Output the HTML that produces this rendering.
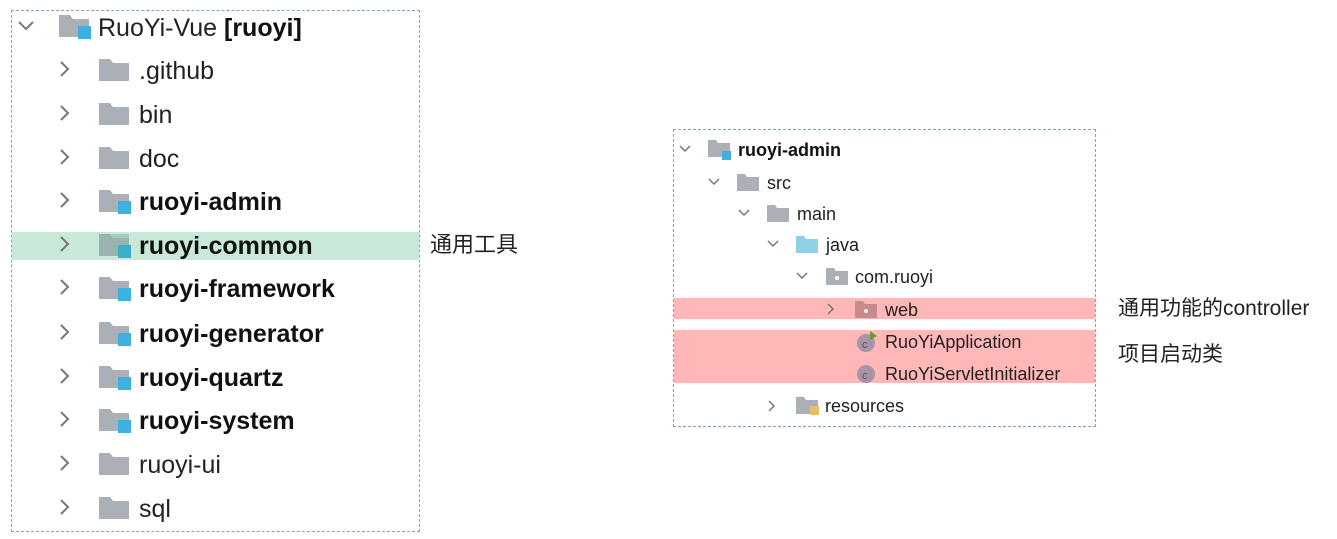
<!DOCTYPE html>
<html><head><meta charset="utf-8"><style>
body{margin:0;width:1337px;height:539px;background:#fff;position:relative;overflow:hidden;font-family:"Liberation Sans","Noto Sans CJK SC",sans-serif;color:#222}
.a{position:absolute;white-space:nowrap}
.box{position:absolute;border:1.5px dashed #7ea4cf}
.t{position:absolute;white-space:nowrap;line-height:1}
.b{font-weight:bold;color:#111}
svg{position:absolute}
</style></head><body>
<div class="a" style="left:12px;top:232px;width:407px;height:28px;background:#c8e8d8"></div>
<div class="a" style="left:674px;top:298px;width:421px;height:21px;background:#ffb7b7"></div>
<div class="a" style="left:674px;top:330px;width:421px;height:53px;background:#ffb7b7"></div>
<div class="box" style="left:11px;top:10px;width:407px;height:520px"></div>
<div class="box" style="left:673px;top:129px;width:421px;height:296px"></div>

<svg width="1337" height="539" style="left:0;top:0">
<defs>
<g id="f"><path d="M0 0h11l3 4h16v18h-30z" fill="#aab0b6"/></g>
<g id="m"><path d="M0 0h11l3 4h16v18h-30z" fill="#aab0b6"/><rect x="19" y="11" width="13" height="13" fill="#3eb0e0"/></g>
<g id="fs"><path d="M0 0h8l2 3h12v14h-22z" fill="#aab0b6"/></g>
</defs>
<g fill="none" stroke="#777" stroke-width="2">
<path d="M19 22l7 7 7-7"/>
<path d="M61 62l7 7-7 7"/><path d="M61 106l7 7-7 7"/><path d="M61 150l7 7-7 7"/><path d="M61 193l7 7-7 7"/><path d="M61 237l7 7-7 7"/><path d="M61 280l7 7-7 7"/><path d="M61 325l7 7-7 7"/><path d="M61 369l7 7-7 7"/><path d="M61 412l7 7-7 7"/><path d="M61 456l7 7-7 7"/><path d="M61 500l7 7-7 7"/>
</g>
<use href="#m" x="59" y="15"/>
<use href="#f" x="99" y="59"/><use href="#f" x="99" y="103"/><use href="#f" x="99" y="147"/>
<use href="#m" x="99" y="190"/><use href="#m" x="99" y="234"/><use href="#m" x="99" y="277"/><use href="#m" x="99" y="322"/><use href="#m" x="99" y="366"/><use href="#m" x="99" y="409"/>
<use href="#f" x="99" y="453"/><use href="#f" x="99" y="497"/>
<rect x="99" y="234" width="30" height="22" fill="#8fb5a8" opacity="0.6"/>
<rect x="118" y="245" width="13" height="13" fill="#3ab0c8"/>
<g fill="none" stroke="#777" stroke-width="1.5">
<path d="M680 146l5 5 5-5"/><path d="M709 179l5 5 5-5"/><path d="M739 210l5 5 5-5"/><path d="M768 241l5 5 5-5"/><path d="M797 273l5 5 5-5"/>
<path d="M828 304l5 5-5 5"/><path d="M769 401l5 5-5 5"/>
</g>
<path d="M708 140h8l2 3h12v14h-22z" fill="#aab0b6"/><rect x="722" y="151" width="9" height="9" fill="#3eb0e0"/>
<use href="#fs" x="737" y="174"/><use href="#fs" x="767" y="205"/>
<path d="M796 236h8l2 3h12v14h-22z" fill="#8fd0e8"/>
<use href="#fs" x="826" y="268"/><circle cx="837" cy="278" r="2" fill="#fff"/>
<path d="M855 301h8l2 3h12v14h-22z" fill="#c98a8e"/><circle cx="866" cy="311" r="2" fill="#eee"/>
<circle cx="866" cy="343" r="9" fill="#a893a8"/><text x="862" y="348" font-size="11" fill="#555" font-family="Liberation Sans">c</text><path d="M870 331l7 5-7 4z" fill="#6a9a30"/>
<circle cx="866" cy="374" r="9" fill="#a893a8"/><text x="862" y="379" font-size="11" fill="#555" font-family="Liberation Sans">c</text>
<path d="M796 397h8l2 3h12v14h-22z" fill="#aab0b6"/><rect x="810" y="406" width="9" height="9" fill="#e8c060"/>
</svg>

<div class="t" style="left:98px;top:16px;font-size:25px">RuoYi-Vue <b class="b">[ruoyi]</b></div>
<div class="t" style="left:139px;top:59px;font-size:25px">.github</div>
<div class="t" style="left:139px;top:103px;font-size:25px">bin</div>
<div class="t" style="left:139px;top:147px;font-size:25px">doc</div>
<div class="t b" style="left:139px;top:190px;font-size:25px">ruoyi-admin</div>
<div class="t b" style="left:139px;top:234px;font-size:25px">ruoyi-common</div>
<div class="t b" style="left:139px;top:277px;font-size:25px">ruoyi-framework</div>
<div class="t b" style="left:139px;top:322px;font-size:25px">ruoyi-generator</div>
<div class="t b" style="left:139px;top:366px;font-size:25px">ruoyi-quartz</div>
<div class="t b" style="left:139px;top:409px;font-size:25px">ruoyi-system</div>
<div class="t" style="left:139px;top:453px;font-size:25px">ruoyi-ui</div>
<div class="t" style="left:139px;top:497px;font-size:25px">sql</div>
<div class="t" style="left:430px;top:234px;font-size:22px">通用工具</div>

<div class="t b" style="left:738px;top:141px;font-size:18px">ruoyi-admin</div>
<div class="t" style="left:767px;top:174px;font-size:18px">src</div>
<div class="t" style="left:797px;top:205px;font-size:18px">main</div>
<div class="t" style="left:826px;top:236px;font-size:18px">java</div>
<div class="t" style="left:855px;top:268px;font-size:18px">com.ruoyi</div>
<div class="t" style="left:885px;top:301px;font-size:18px">web</div>
<div class="t" style="left:885px;top:333px;font-size:18px">RuoYiApplication</div>
<div class="t" style="left:885px;top:365px;font-size:18px">RuoYiServletInitializer</div>
<div class="t" style="left:825px;top:397px;font-size:18px">resources</div>
<div class="t" style="left:1118px;top:298px;font-size:21px">通用功能的controller</div>
<div class="t" style="left:1118px;top:344px;font-size:21px">项目启动类</div>
</body></html>
